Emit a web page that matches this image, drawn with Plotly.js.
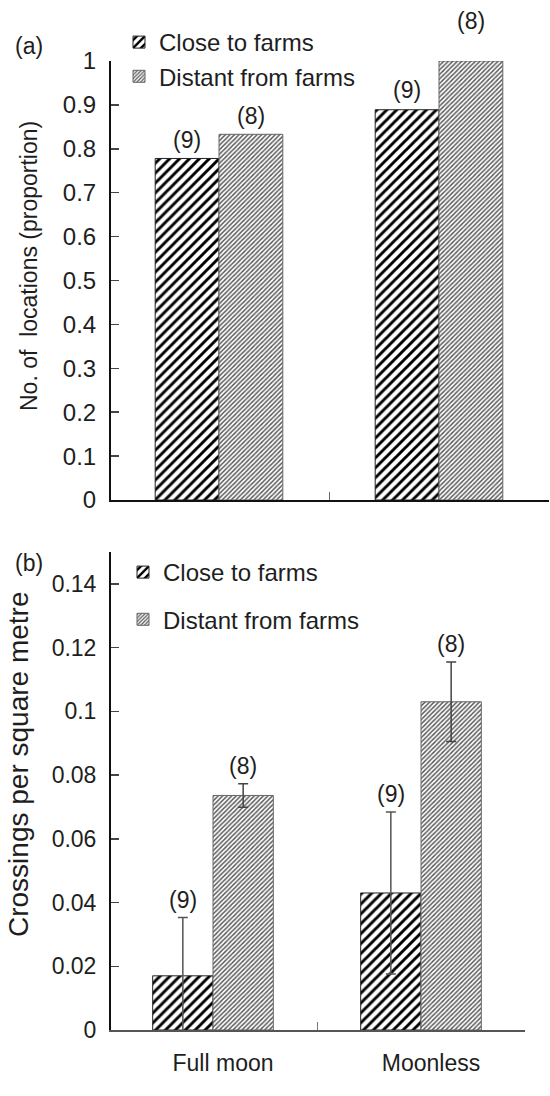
<!DOCTYPE html>
<html>
<head>
<meta charset="utf-8">
<script src="https://cdn.plot.ly/plotly-3.0.1.min.js"></script>
<style>html,body{margin:0;padding:0;background:#fff;}#chart{width:550px;height:1096px;}</style>
</head>
<body>
<div id="chart"></div>
<script>
// ---- data ----
const categories = ['Full moon', 'Moonless'];
const seriesNames = ['Close to farms', 'Distant from farms'];
// panel (a): proportion of locations
const propClose = [0.778, 0.889];
const propDistant = [0.833, 1.0];
// panel (b): crossings per square metre
const crossClose = [0.017, 0.043];
const crossCloseErr = [0.0183, 0.0254];
const crossDistant = [0.0736, 0.103];
const crossDistantErr = [0.0037, 0.0125];
// sample sizes
const nClose = [9, 9];
const nDistant = [8, 8];

// ---- styling ----
const W = 550, H = 1096;
const FONT = 'Liberation Sans, Arial, sans-serif';
const TXT = '#1e1e1e';
const BARGAP = 0.42;
const px = v => v / W;
const py = v => 1 - v / H;

const patClose = {shape: '/', size: 7, solidity: 0.42, fgcolor: '#000', bgcolor: '#fff'};
const patDist = {shape: '/', size: 3.2, solidity: 0.45, fgcolor: '#555', bgcolor: '#fff'};

const traces = [
  {type: 'bar', x: categories, y: propClose, name: seriesNames[0], xaxis: 'x', yaxis: 'y',
   legend: 'legend', legendgroup: 'a1',
   marker: {color: '#fff', pattern: patClose, line: {color: '#222', width: 1}}},
  {type: 'bar', x: categories, y: propDistant, name: seriesNames[1], xaxis: 'x', yaxis: 'y',
   legend: 'legend', legendgroup: 'a2',
   marker: {color: '#fff', pattern: patDist, line: {color: '#666', width: 1}}},
  {type: 'bar', x: categories, y: crossClose, name: seriesNames[0], xaxis: 'x2', yaxis: 'y2',
   legend: 'legend2', legendgroup: 'b1',
   error_y: {type: 'data', array: crossCloseErr, visible: true, color: '#555', thickness: 1.5, width: 5},
   marker: {color: '#fff', pattern: patClose, line: {color: '#222', width: 1}}},
  {type: 'bar', x: categories, y: crossDistant, name: seriesNames[1], xaxis: 'x2', yaxis: 'y2',
   legend: 'legend2', legendgroup: 'b2',
   error_y: {type: 'data', array: crossDistantErr, visible: true, color: '#444', thickness: 1.5, width: 5},
   marker: {color: '#fff', pattern: patDist, line: {color: '#666', width: 1}}}
];

const off = (1 - BARGAP) / 4;
const annotations = [];
function addN(axX, axY, vals, errs, ns, sign, extra) {
  categories.forEach((c, i) => {
    annotations.push({
      xref: axX, yref: axY, x: i + sign * off, y: vals[i] + (errs ? errs[i] : 0),
      text: '(' + ns[i] + ')', showarrow: false, xanchor: 'center', yanchor: 'bottom',
      yshift: 3 + (extra ? extra[i] : 0), font: {family: FONT, size: 23, color: TXT}
    });
  });
}
addN('x', 'y', propClose, null, nClose, -1, [0, 2]);
addN('x', 'y', propDistant, null, nDistant, 1, [0, 22]);
addN('x2', 'y2', crossClose, crossCloseErr, nClose, -1, null);
addN('x2', 'y2', crossDistant, crossDistantErr, nDistant, 1, null);

const ctr = {showarrow: false, xanchor: 'center', yanchor: 'middle', xref: 'paper', yref: 'paper'};
annotations.push(
  Object.assign({x: px(29), y: py(46), text: '(a)', font: {family: FONT, size: 23, color: TXT}}, ctr),
  Object.assign({x: px(29), y: py(563), text: '(b)', font: {family: FONT, size: 23, color: TXT}}, ctr),
  Object.assign({x: px(29), y: py(266), text: 'No. of&nbsp;&nbsp;locations (proportion)', textangle: -90,
    font: {family: FONT, size: 23, color: TXT}}, ctr),
  Object.assign({x: px(18), y: py(765), text: 'Crossings per square metre', textangle: -90,
    font: {family: FONT, size: 28, color: TXT}}, ctr)
);

const yAxisBase = {
  showgrid: false, zeroline: false, showline: true, linecolor: '#111', linewidth: 1.5,
  ticks: 'inside', ticklen: 8, tickcolor: '#444', tickwidth: 1.5,
  ticklabelstandoff: 8, anchor: 'free'
};

const layout = {
  width: W, height: H,
  margin: {l: 0, r: 0, t: 0, b: 0},
  paper_bgcolor: '#fff', plot_bgcolor: '#fff',
  barmode: 'group', bargap: BARGAP, bargroupgap: 0,
  showlegend: true,
  font: {family: FONT, color: TXT},
  xaxis: {
    domain: [px(109), px(549)], anchor: 'y', type: 'category', range: [-0.5, 1.5],
    showgrid: false, zeroline: false, showline: true, linecolor: '#111', linewidth: 2,
    ticks: 'inside', ticklen: 8, tickcolor: '#666', tickson: 'boundaries', showticklabels: false
  },
  yaxis: Object.assign({}, yAxisBase, {
    domain: [py(500), py(61)], range: [0, 1], dtick: 0.1, position: px(109),
    tickfont: {family: FONT, size: 24, color: TXT}
  }),
  xaxis2: {
    domain: [px(109), px(525)], anchor: 'y2', type: 'category', range: [-0.5, 1.5],
    showgrid: false, zeroline: false, showline: true, linecolor: '#555', linewidth: 2,
    ticks: 'inside', ticklen: 8, tickcolor: '#777', tickson: 'boundaries',
    tickfont: {family: FONT, size: 23, color: TXT}, ticklabelstandoff: 11, ticklabelshift: 10
  },
  yaxis2: Object.assign({}, yAxisBase, {
    domain: [py(1030), py(552)], range: [0, 0.15], tickvals: [0, 0.02, 0.04, 0.06, 0.08, 0.1, 0.12, 0.14],
    position: px(109), tickfont: {family: FONT, size: 23, color: TXT}
  }),
  legend: {
    x: px(119), y: py(20), xanchor: 'left', yanchor: 'top', bgcolor: 'rgba(0,0,0,0)',
    tracegroupgap: 0, font: {family: FONT, size: 24, color: TXT}, traceorder: 'grouped'
  },
  legend2: {
    x: px(123), y: py(550), xanchor: 'left', yanchor: 'top', bgcolor: 'rgba(0,0,0,0)',
    tracegroupgap: 13, font: {family: FONT, size: 24, color: TXT}, traceorder: 'grouped'
  },
  annotations: annotations
};

Plotly.newPlot('chart', traces, layout, {displayModeBar: false, staticPlot: true});
</script>
</body>
</html>
